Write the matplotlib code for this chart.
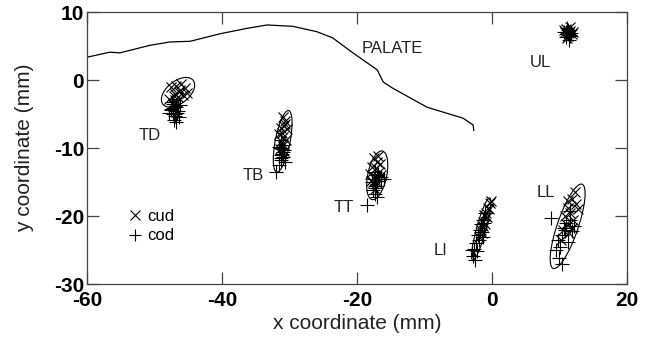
import matplotlib
matplotlib.use("Agg")
import matplotlib.pyplot as plt
from matplotlib.patches import Ellipse
from matplotlib.lines import Line2D

plt.rcParams['font.family'] = ['Liberation Sans', 'DejaVu Sans']

# ---- palate contour ----
palate_x = [-59.8, -56.6, -55.1, -50.7, -47.7, -44.7, -40.3, -36.3, -33.3, -29.5,
            -25.9, -23.6, -20.6, -17.0, -16.1, -14.7, -9.6, -4.3, -2.8, -2.7]
palate_y = [3.4, 4.1, 4.0, 5.1, 5.6, 5.7, 6.8, 7.6, 8.1, 7.9,
            7.1, 6.2, 4.0, 1.5, -0.3, -1.2, -4.0, -5.6, -6.6, -7.4]

# ---- sensor clusters: cud (x marker) and cod (+ marker) ----
TD_cud_x = [-47.5, -46.8, -46.2, -45.5, -47.0, -46.5, -45.8, -47.8, -46.9, -46.3, -45.2, -47.3, -46.6, -46.0, -47.1]
TD_cud_y = [-1.0, -0.8, -1.5, -1.2, -2.0, -2.5, -2.2, -2.8, -3.0, -1.8, -1.9, -3.5, -3.2, -0.6, -2.4]
TD_cod_x = [-47.2, -46.8, -47.5, -46.5, -47.0, -47.8, -46.2, -47.3, -46.9, -47.6, -46.6, -47.1, -47.4, -46.4, -47.0, -46.8, -47.2, -46.9]
TD_cod_y = [-3.5, -4.0, -4.2, -4.5, -3.8, -4.8, -3.6, -5.0, -5.3, -4.4, -4.9, -5.8, -3.2, -5.5, -4.6, -6.2, -4.1, -5.0]

TB_cud_x = [-31.0, -30.6, -30.8, -31.3, -30.4, -31.1, -30.9, -31.5, -30.7, -31.2, -30.5, -31.0, -31.4, -30.8]
TB_cud_y = [-5.5, -6.0, -6.8, -7.0, -7.2, -7.8, -8.3, -8.0, -6.5, -9.0, -8.8, -9.6, -10.2, -10.5]
TB_cod_x = [-31.2, -31.0, -31.4, -30.8, -31.1, -31.3, -30.9, -31.5, -31.0, -31.2, -30.7, -31.6, -31.1, -32.0, -31.3]
TB_cod_y = [-8.8, -9.5, -10.0, -10.3, -10.8, -11.0, -11.3, -9.8, -10.6, -11.8, -12.0, -12.5, -10.2, -13.5, -11.5]

TT_cud_x = [-17.5, -17.0, -16.6, -17.8, -17.2, -16.8, -18.0, -17.4, -16.4, -17.6, -17.1, -16.9, -17.9, -17.3]
TT_cud_y = [-11.5, -12.0, -12.3, -12.8, -13.0, -13.5, -13.8, -14.2, -14.0, -15.0, -15.2, -11.2, -14.8, -16.0]
TT_cod_x = [-17.3, -17.0, -16.7, -17.5, -17.1, -16.5, -17.8, -17.2, -16.9, -17.6, -16.4, -17.4, -17.0, -18.5, -17.3, -16.0]
TT_cod_y = [-13.5, -14.0, -14.3, -14.6, -14.8, -14.2, -15.0, -15.5, -13.8, -16.2, -14.5, -16.8, -17.2, -18.3, -15.8, -14.6]

LI_cud_x = [-0.3, -0.6, -0.9, -1.1, -1.4, -0.5, -1.0, -1.7, -1.3, -0.8, -2.0, -1.5, -0.2, -1.2]
LI_cud_y = [-18.0, -18.8, -19.5, -20.0, -20.8, -19.0, -21.2, -22.0, -21.5, -20.2, -23.0, -22.5, -17.8, -19.8]
LI_cod_x = [-1.0, -1.3, -1.6, -1.8, -2.1, -1.2, -1.9, -2.4, -2.6, -1.5, -2.2, -2.8, -3.0, -2.5, -1.4]
LI_cod_y = [-19.5, -20.5, -21.2, -22.0, -22.8, -21.0, -23.5, -24.0, -24.8, -22.3, -25.2, -25.8, -25.0, -26.5, -23.0]

LL_cud_x = [12.3, 11.8, 12.5, 11.2, 11.6, 10.8, 12.0, 11.0, 10.5, 11.4, 12.8, 10.2, 11.9, 11.3]
LL_cud_y = [-16.5, -17.5, -18.2, -18.8, -19.5, -20.0, -20.5, -21.2, -22.0, -22.5, -19.0, -23.5, -21.8, -17.8]
LL_cod_x = [11.5, 11.0, 10.6, 11.8, 10.3, 9.8, 11.2, 10.0, 9.5, 10.8, 12.2, 9.9, 10.4, 8.7, 11.6]
LL_cod_y = [-20.5, -21.0, -21.8, -22.2, -22.8, -23.5, -23.8, -24.5, -25.0, -22.0, -21.5, -26.2, -27.0, -20.3, -19.2]

UL_cud_x = [11.0, 11.5, 11.8, 10.8, 11.3, 11.6, 11.1, 10.6, 12.0, 11.4]
UL_cud_y = [7.5, 7.2, 6.8, 7.0, 6.5, 7.8, 6.2, 7.3, 7.1, 6.9]
UL_cod_x = [11.2, 11.0, 11.5, 10.9, 11.3, 11.7, 10.7, 11.4, 11.1, 11.6]
UL_cod_y = [6.8, 7.1, 6.5, 6.3, 7.4, 6.9, 7.0, 5.9, 7.6, 6.6]

# ---- dispersion ellipses (center, full axes lengths, angle in degrees) ----
ell_names = ['TD', 'TB', 'TT', 'LI', 'LL', 'UL']
ell_cx = [-46.5, -31.0, -17.0, -1.6, 11.2, 11.3]
ell_cy = [-1.8, -9.0, -14.0, -21.9, -21.5, 7.0]
ell_len = [5.7, 9.2, 7.3, 9.5, 13.1, 1.8]
ell_wid = [3.3, 2.2, 2.8, 1.4, 3.1, 1.2]
ell_ang = [38, 79, 78, 74.6, 71, 60]

# ---- labels ----
lab_text = ['TD', 'TB', 'TT', 'LI', 'LL', 'UL', 'PALATE']
lab_x = [-50.7, -35.4, -22.0, -7.6, 8.0, 7.1, -14.7]
lab_y = [-8.1, -14.0, -18.7, -25.0, -16.6, 2.6, 4.6]

x_ticks = [-60, -40, -20, 0, 20]
y_ticks = [-30, -20, -10, 0, 10]

fig = plt.figure(figsize=(6.58, 3.44), dpi=100)
ax = fig.add_axes([0.132, 0.174, 0.821, 0.791])

ax.plot(palate_x, palate_y, color='black', lw=0.9)

clusters = [
    (TD_cud_x, TD_cud_y, TD_cod_x, TD_cod_y),
    (TB_cud_x, TB_cud_y, TB_cod_x, TB_cod_y),
    (TT_cud_x, TT_cud_y, TT_cod_x, TT_cod_y),
    (LI_cud_x, LI_cud_y, LI_cod_x, LI_cod_y),
    (LL_cud_x, LL_cud_y, LL_cod_x, LL_cod_y),
    (UL_cud_x, UL_cud_y, UL_cod_x, UL_cod_y),
]
for cx, cy, px, py in clusters:
    ax.plot(cx, cy, linestyle='none', marker='x', ms=7.5, mew=0.8, color='black')
    ax.plot(px, py, linestyle='none', marker='+', ms=10, mew=0.8, color='black')

for x0, y0, L, W, a in zip(ell_cx, ell_cy, ell_len, ell_wid, ell_ang):
    ax.add_patch(Ellipse((x0, y0), L, W, angle=a, fill=False, ec='black', lw=0.8))

for t, x0, y0 in zip(lab_text, lab_x, lab_y):
    ax.text(x0, y0, t, ha='center', va='center', fontsize=12, color='#222222')

handles = [Line2D([], [], linestyle='none', marker='x', ms=7, mew=0.8, color='black'),
           Line2D([], [], linestyle='none', marker='+', ms=9, mew=0.8, color='black')]
ax.legend(handles, ['cud', 'cod'], loc='upper left', bbox_to_anchor=(0.065, 0.30),
          frameon=False, fontsize=12, handlelength=0.8, handletextpad=0.3,
          labelspacing=0.25, borderaxespad=0)

ax.set_xlim(-60, 20)
ax.set_ylim(-30, 10)
ax.set_xticks(x_ticks)
ax.set_yticks(y_ticks)
ax.set_xticklabels([str(v) for v in x_ticks], fontweight='bold', fontsize=15)
ax.set_yticklabels([str(v) for v in y_ticks], fontweight='bold', fontsize=15)
ax.tick_params(direction='in', length=8.5, width=0.9, top=True, right=True,
               pad=2, color='#444444')
ax.tick_params(axis='x', pad=5)
for s in ax.spines.values():
    s.set_color('#444444')
    s.set_linewidth(0.9)

ax.set_xlabel('x coordinate (mm)', fontsize=15, labelpad=3, color='#222222')
ax.set_ylabel('y coordinate (mm)', fontsize=15, labelpad=14, color='#222222')

fig.savefig('out.png', dpi=100)
